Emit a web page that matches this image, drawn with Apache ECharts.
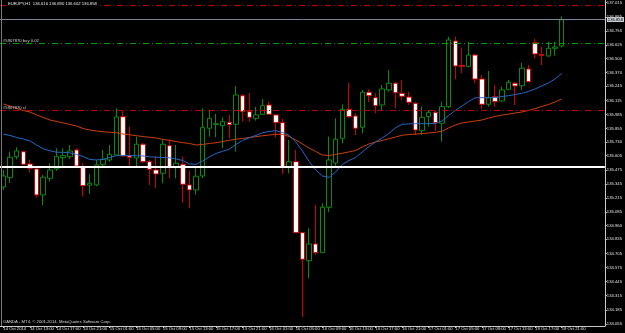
<!DOCTYPE html>
<html><head><meta charset="utf-8">
<script src="https://cdn.jsdelivr.net/npm/echarts@6/dist/echarts.min.js"></script>
<style>html,body{margin:0;padding:0;background:#000}#c{width:625px;height:333px}</style>
</head><body><div id="c"></div>
<script>
const symbol = 'EURJPY,H1';
const yearLabel = '2014';
const times = [
'14 Oct 09:00','14 Oct 10:00','14 Oct 11:00','14 Oct 12:00','14 Oct 13:00','14 Oct 14:00','14 Oct 15:00','14 Oct 16:00','14 Oct 17:00','14 Oct 18:00','14 Oct 19:00','14 Oct 20:00','14 Oct 21:00','14 Oct 22:00','14 Oct 23:00',
'15 Oct 00:00','15 Oct 01:00','15 Oct 02:00','15 Oct 03:00','15 Oct 04:00','15 Oct 05:00','15 Oct 06:00','15 Oct 07:00','15 Oct 08:00','15 Oct 09:00','15 Oct 10:00','15 Oct 11:00','15 Oct 12:00','15 Oct 13:00','15 Oct 14:00','15 Oct 15:00','15 Oct 16:00','15 Oct 17:00','15 Oct 18:00','15 Oct 19:00','15 Oct 20:00','15 Oct 21:00','15 Oct 22:00','15 Oct 23:00',
'16 Oct 00:00','16 Oct 01:00','16 Oct 02:00','16 Oct 03:00','16 Oct 04:00','16 Oct 05:00','16 Oct 06:00','16 Oct 07:00','16 Oct 08:00','16 Oct 09:00','16 Oct 10:00','16 Oct 11:00','16 Oct 12:00','16 Oct 13:00','16 Oct 14:00','16 Oct 15:00','16 Oct 16:00','16 Oct 17:00','16 Oct 18:00','16 Oct 19:00','16 Oct 20:00','16 Oct 21:00','16 Oct 22:00','16 Oct 23:00',
'17 Oct 00:00','17 Oct 01:00','17 Oct 02:00','17 Oct 03:00','17 Oct 04:00','17 Oct 05:00','17 Oct 06:00','17 Oct 07:00','17 Oct 08:00','17 Oct 09:00','17 Oct 10:00','17 Oct 11:00','17 Oct 12:00','17 Oct 13:00','17 Oct 14:00','17 Oct 15:00','17 Oct 16:00',
'19 Oct 17:00','19 Oct 18:00','19 Oct 19:00','19 Oct 20:00','19 Oct 21:00'
];
const opens = [135.317,135.403,135.596,135.642,135.529,135.483,135.244,135.397,135.483,135.587,135.596,135.658,135.499,135.333,135.336,135.525,135.566,135.612,135.965,135.603,135.584,135.711,135.550,135.474,135.443,135.698,135.504,135.526,135.336,135.290,135.419,135.858,135.893,135.882,135.913,135.895,136.158,136.011,135.950,135.987,136.073,135.981,135.910,135.504,135.550,134.896,134.638,134.792,134.712,135.130,135.538,135.766,136.033,135.971,135.867,136.190,136.140,136.073,136.211,136.273,136.180,136.146,136.088,135.836,135.965,136.005,135.904,136.057,136.662,136.437,136.426,136.533,136.312,136.079,136.149,136.110,136.217,136.273,136.250,136.404,136.647,136.538,136.524,136.595,136.616];
const highs = [135.474,135.642,135.683,135.653,135.566,135.492,135.428,135.536,135.674,135.674,135.704,135.674,135.536,135.437,135.566,135.658,135.704,136.042,136.017,135.873,135.781,135.723,135.566,135.603,135.757,135.757,135.704,135.596,135.467,135.511,136.042,136.020,135.990,135.959,135.981,136.248,136.174,136.186,136.057,136.128,136.103,135.990,135.944,135.750,135.658,134.903,134.937,135.151,135.167,135.781,135.950,136.079,136.278,135.996,136.211,136.217,136.180,136.257,136.395,136.285,136.303,136.195,136.100,136.057,136.027,136.017,136.103,136.702,136.702,136.601,136.656,136.543,136.349,136.386,136.257,136.241,136.303,136.285,136.462,136.441,136.681,136.610,136.656,136.656,136.890];
const lows = [135.290,135.354,135.571,135.520,135.451,135.219,135.151,135.366,135.465,135.504,135.575,135.501,135.228,135.253,135.326,135.490,135.548,135.603,135.594,135.511,135.492,135.538,135.336,135.305,135.351,135.397,135.397,135.173,135.121,135.244,135.397,135.781,135.775,135.674,135.766,135.642,135.919,135.919,135.928,135.981,135.981,135.771,135.437,135.443,134.893,134.120,134.476,134.691,134.709,135.087,135.492,135.720,135.953,135.796,135.812,136.098,135.996,136.027,136.195,136.042,136.119,136.073,135.796,135.796,135.873,135.833,135.735,136.045,136.309,136.365,136.423,136.273,136.036,136.057,136.057,136.103,136.211,136.073,136.211,136.285,136.503,136.441,136.518,136.527,136.602];
const closes = [135.419,135.591,135.649,135.526,135.490,135.244,135.407,135.474,135.596,135.606,135.649,135.511,135.329,135.351,135.520,135.572,135.618,135.962,135.603,135.589,135.711,135.550,135.480,135.437,135.711,135.504,135.536,135.342,135.290,135.416,135.864,135.950,135.899,135.919,135.891,136.165,136.011,135.959,135.981,136.066,135.987,135.910,135.499,135.550,134.896,134.651,134.792,134.712,135.130,135.566,135.757,136.033,135.965,135.858,136.190,136.158,136.066,136.220,136.273,136.186,136.153,136.098,135.842,135.959,136.005,135.910,136.057,136.672,136.432,136.427,136.533,136.312,136.079,136.140,136.103,136.211,136.282,136.248,136.411,136.287,136.543,136.529,136.595,136.607,136.858];
const maFast = [135.803,135.792,135.773,135.759,135.741,135.704,135.669,135.651,135.637,135.637,135.632,135.617,135.598,135.571,135.566,135.571,135.589,135.606,135.606,135.606,135.605,135.603,135.595,135.591,135.589,135.586,135.575,135.561,135.529,135.525,135.557,135.594,135.626,135.646,135.665,135.709,135.746,135.770,135.792,135.817,135.829,135.836,135.819,135.792,135.732,135.649,135.552,135.474,135.419,135.405,135.455,135.525,135.561,135.589,135.640,135.690,135.732,135.769,135.810,135.861,135.895,135.898,135.900,135.900,135.900,135.902,135.925,135.976,136.022,136.063,136.105,136.139,136.140,136.140,136.140,136.151,136.158,136.169,136.180,136.197,136.220,136.248,136.275,136.312,136.363];
const maSlow = [136.082,136.063,136.040,136.022,136.008,135.981,135.958,135.934,135.921,135.907,135.893,135.879,135.856,135.842,135.833,135.826,135.821,135.817,135.805,135.798,135.790,135.782,135.775,135.769,135.755,135.746,135.736,135.725,135.718,135.704,135.709,135.718,135.725,135.736,135.747,135.757,135.764,135.773,135.781,135.789,135.796,135.803,135.801,135.782,135.750,135.713,135.676,135.644,135.612,135.607,135.617,135.628,135.640,135.653,135.686,135.713,135.732,135.746,135.762,135.778,135.794,135.800,135.805,135.809,135.815,135.820,135.831,135.861,135.888,135.907,135.916,135.925,135.934,135.953,135.967,135.979,135.988,135.999,136.008,136.022,136.039,136.059,136.077,136.100,136.128];
const yTicks = [137.015,136.885,136.755,136.625,136.500,136.370,136.245,136.115,135.985,135.855,135.730,135.605,135.475,135.345,135.215,135.085,134.960,134.835,134.705,134.575,134.445,134.315,134.185,134.055];
const yMin = 134.036, yMax = 137.040;
const levelTop = 136.991;
const levelBuy = 136.637;
const levelSL = 136.017;
const levelLine = 135.501;
const buyLabel = '#5907870 buy 0.02';
const slLabel = '#5907870 sl';
const footer = 'OANDA - MT4, \u00a9 2001-2014, MetaQuotes Software Corp.';
const shiftBars = 6;

const n = times.length;
const cats = times.concat(Array.from({length: shiftBars}, (_, i) => 'shift' + i));
const candles = times.map((t, i) => [opens[i], closes[i], lows[i], highs[i]]);
const last = n - 1;
const bid = closes[last];
const F = 'Liberation Sans, Arial, sans-serif';
const fmt = v => v.toFixed(3);
const showIdx = (i) => i % 4 === 0 && i < n;

const chart = echarts.init(document.getElementById('c'));
chart.setOption({
  animation: false,
  backgroundColor: '#000',
  title: [
    {text: symbol + '  ' + fmt(opens[last]) + ' ' + fmt(highs[last]) + ' ' + fmt(lows[last]) + ' ' + fmt(closes[last]),
     left: 6, top: 1, padding: [1, 2], backgroundColor: '#000',
     textStyle: {color: '#e8e8e8', fontSize: 4.2, fontWeight: 'normal', fontFamily: F}},
    {text: footer, left: 1, top: 319, padding: [1, 2],
     textStyle: {color: '#d8d8d8', fontSize: 4.2, fontWeight: 'normal', fontFamily: F}}
  ],
  grid: {left: -2, right: 19, top: 0, bottom: 7, containLabel: false},
  xAxis: {
    type: 'category', data: cats, boundaryGap: true,
    axisLine: {show: true, lineStyle: {color: '#c8c8c8', width: 1}},
    axisTick: {show: true, interval: showIdx, alignWithLabel: true, length: 2, lineStyle: {color: '#c8c8c8'}},
    axisLabel: {show: true, interval: showIdx, align: 'left', margin: 1, color: '#e0e0e0', fontSize: 4.2, fontFamily: F,
      formatter: (v, i) => i === 0 ? v.slice(0, 6) + ' ' + yearLabel : v},
    splitLine: {show: false}
  },
  yAxis: {
    type: 'value', position: 'right', min: yMin, max: yMax, scale: true,
    axisLine: {show: true, lineStyle: {color: '#c8c8c8', width: 1}},
    axisTick: {show: true, customValues: yTicks, length: 2, lineStyle: {color: '#c8c8c8'}},
    axisLabel: {show: true, customValues: yTicks, formatter: fmt, margin: 2, color: '#e0e0e0', fontSize: 4.2, fontFamily: F},
    splitLine: {show: false}
  },
  graphic: [
    {type: 'line', z: 10, shape: {x1: 1.5, y1: 0, x2: 1.5, y2: 326}, style: {stroke: '#7a7a7a', lineWidth: 1}}
  ],
  series: [
    {
      type: 'candlestick', data: candles, barWidth: 5, z: 2,
      itemStyle: {color: '#000', color0: '#ffffff', borderColor: '#0b8a0b', borderColor0: '#d00000', borderWidth: 1},
      markLine: {
        symbol: 'none', silent: true, animation: false, z: 5,
        label: {show: false},
        data: [
          {yAxis: levelTop, lineStyle: {color: '#c00000', type: [6, 3, 1, 3], width: 1}},
          {yAxis: levelBuy, lineStyle: {color: '#00a000', type: [6, 3, 1, 3], width: 1},
           label: {show: true, position: 'insideStartTop', distance: [3, 0.5], formatter: buyLabel, color: '#d0d0d0', fontSize: 4.2, fontFamily: F}},
          {yAxis: levelSL, lineStyle: {color: '#c00000', type: [6, 3, 1, 3], width: 1},
           label: {show: true, position: 'insideStartTop', distance: [3, 0.5], formatter: slLabel, color: '#d0d0d0', fontSize: 4.2, fontFamily: F}},
          {yAxis: levelLine, lineStyle: {color: '#ffffff', type: 'solid', width: 2}},
          {yAxis: bid, lineStyle: {color: '#7d8494', type: 'solid', width: 1},
           label: {show: true, position: 'end', distance: 2, formatter: fmt(bid), color: '#000', backgroundColor: '#c8ccd4',
                   padding: [0.5, 1], fontSize: 4.2, fontFamily: F}}
        ]
      }
    },
    {type: 'line', data: maSlow, showSymbol: false, symbol: 'none', z: 3,
     lineStyle: {color: '#cc3f0c', width: 1}},
    {type: 'line', data: maFast, showSymbol: false, symbol: 'none', z: 3,
     lineStyle: {color: '#2468c8', width: 1}}
  ]
});
</script>
</body></html>
